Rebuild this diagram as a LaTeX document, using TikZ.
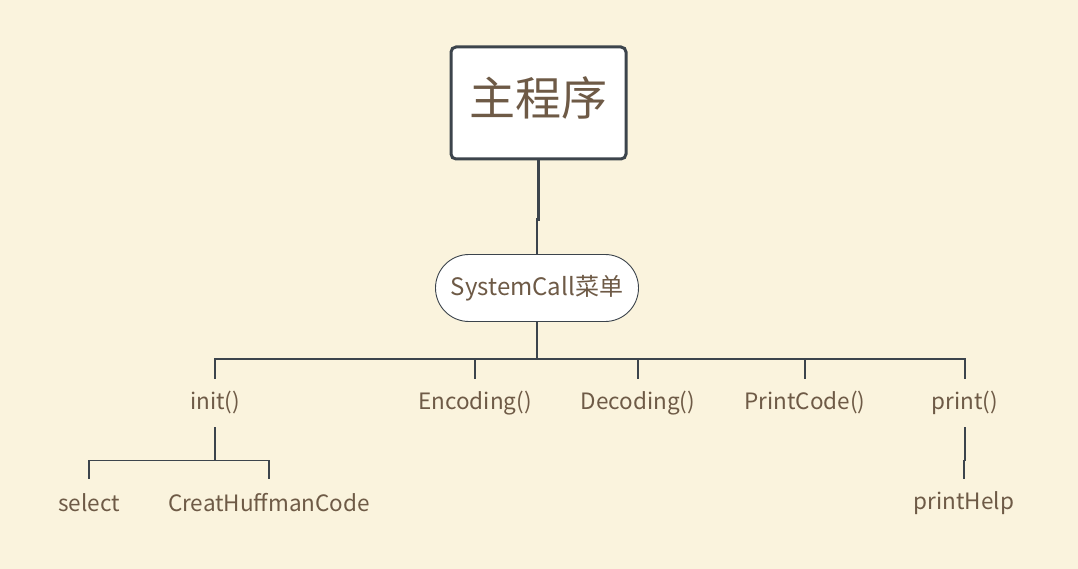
\documentclass[tikz,border=0pt]{standalone}
\usepackage{fontspec}
\setmainfont{Noto Sans CJK SC}
\usetikzlibrary{shapes.misc}
\definecolor{bgc}{RGB}{250,243,221}
\definecolor{txt}{RGB}{110,90,70}
\definecolor{ln}{RGB}{60,68,76}
\tikzset{
  mainbox/.style={draw=ln, line width=3pt, fill=white, rounded corners=5pt, minimum width=175pt, minimum height=112pt, inner sep=0pt, text height=35pt, text depth=10pt, text=txt, font=\fontsize{46}{50}\selectfont},
  capsule/.style={draw=ln, line width=0.9pt, fill=white, rounded rectangle, minimum width=203pt, minimum height=67pt, inner sep=0pt, text=txt, font=\fontsize{24}{28}\selectfont},
  lbl/.style={text=txt, minimum height=48pt, inner sep=0pt, font=\fontsize{22.5}{26}\selectfont},
  thickconn/.style={draw=ln, line width=2.6pt},
  conn/.style={draw=ln, line width=1.4pt},
}
\begin{document}
\begin{tikzpicture}[x=1pt, y=-1pt]
\fill[bgc] (0,0) rectangle (1078,569);
\useasboundingbox (0,0) rectangle (1078,569);
\node[mainbox] (main) at (538.5,103) {主程序};
\node[capsule] (menu) at (537,288) {SystemCall菜单};
\node[lbl] (init) at (215,403) {init()};
\node[lbl] (enc) at (475,403) {Encoding()};
\node[lbl] (dec) at (638,403) {Decoding()};
\node[lbl] (pc) at (805,403) {PrintCode()};
\node[lbl] (pr) at (965,403) {print()};
\node[lbl] (sel) at (89,503) {select};
\node[lbl] (chc) at (269,503) {CreatHuffmanCode};
\node[lbl] (ph) at (964,503) {printHelp};
\draw[thickconn] (main.south) -- ++(0,59) -| (menu.north);
\draw[conn] (menu.south) -- ++(0,37) coordinate (bus);
\foreach \c in {init,enc,dec,pc,pr} \draw[conn] (bus) -| (\c.north);
\draw[conn] (init.south) -- ++(0,33) coordinate (ib);
\foreach \c in {sel,chc} \draw[conn] (ib) -| (\c.north);
\draw[conn] (pr.south) -- ++(0,33) -| (ph.north);
\end{tikzpicture}
\end{document}
